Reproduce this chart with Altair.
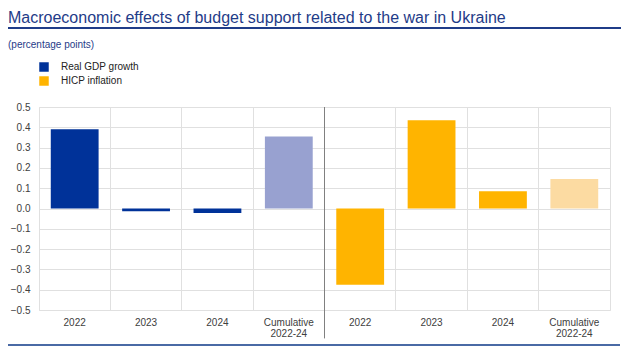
import altair as alt
import pandas as pd

categories = ["2022", "2023", "2024", "Cumulative|2022-24"]
gdp = [0.39, -0.013, -0.022, 0.355]
hicp = [-0.375, 0.435, 0.085, 0.145]
series = ["Real GDP growth", "HICP inflation"]
colors = ["#003299", "#ffb400", "#98a1d0", "#fcdba2"]
y_ticks = [-0.5, -0.4, -0.3, -0.2, -0.1, 0.0, 0.1, 0.2, 0.3, 0.4, 0.5]

rows = []
for prefix, name, vals in [("G", series[0], gdp), ("H", series[1], hicp)]:
    for c, v in zip(categories, vals):
        cum = c.startswith("Cumulative")
        rows.append({
            "cat": f"{prefix}|{c}",
            "value": v,
            "series": name + (" (cumulative)" if cum else ""),
        })
df = pd.DataFrame(rows)
order = list(df["cat"])
color_domain = [series[0], series[1], series[0] + " (cumulative)", series[1] + " (cumulative)"]

FONT = "Liberation Sans"

xscale = alt.Scale(domain=order, paddingInner=0, paddingOuter=0)
yscale = alt.Scale(domain=[-0.5, 0.5], nice=False)
xaxis = alt.Axis(labelExpr="split(slice(datum.label, 2), '|')",
                 labelAngle=0, grid=True, bandPosition=0,
                 ticks=False, domain=False, labelPadding=7,
                 labelLineHeight=11, labelFontSize=10,
                 labelColor="#404040", labelFont=FONT,
                 gridColor="#e0e0e0", title=None)
yaxis = alt.Axis(values=y_ticks, format=".1f", ticks=False, domain=False,
                 labelPadding=9, labelOverlap=False,
                 labelFontSize=10, labelColor="#404040", labelFont=FONT,
                 gridColor="#e0e0e0", title=None)

bars = alt.Chart(df).mark_bar(width=alt.RelativeBandSize(0.67)).encode(
    x=alt.X("cat:N", scale=xscale, sort=order, axis=xaxis),
    y=alt.Y("value:Q", scale=yscale, axis=yaxis),
    color=alt.Color("series:N",
                    scale=alt.Scale(domain=color_domain, range=colors),
                    legend=alt.Legend(values=series, title=None, orient="none",
                                      legendX=0, legendY=-45, symbolType="square",
                                      symbolSize=90, symbolStrokeWidth=0,
                                      labelFontSize=10, labelFont=FONT,
                                      labelColor="#222222", labelOffset=12,
                                      rowPadding=4, padding=0)),
)

sep_df = pd.DataFrame({"cat": ["H|2022"], "y1": [0.5], "y2": [-0.64]})
sep = alt.Chart(sep_df).mark_rule(color="#808080", strokeWidth=1).encode(
    x=alt.X("cat:N", scale=xscale, sort=order, bandPosition=0, axis=xaxis),
    y=alt.Y("y1:Q", scale=yscale, axis=yaxis),
    y2="y2:Q",
)

top_line = alt.Chart(sep_df).mark_rule(color="#1f3c88", strokeWidth=2).encode(
    x=alt.value(-32), x2=alt.value(582), y=alt.value(-79))
bottom_line = alt.Chart(sep_df).mark_rule(color="#4a6aa5", strokeWidth=2).encode(
    x=alt.value(-32), x2=alt.value(581), y=alt.value(238))

chart = alt.layer(bars, sep, top_line, bottom_line).properties(
    width=571,
    height=203,
    autosize=alt.AutoSizeParams(type="none"),
    padding={"left": 31, "top": 99, "right": 14, "bottom": 37},
    title=alt.TitleParams(
        text="Macroeconomic effects of budget support related to the war in Ukraine",
        subtitle="(percentage points)",
        anchor="start", frame="group", orient="top", dx=-31, offset=-23,
        font=FONT, fontSize=16, fontWeight="normal", color="#1f3c88",
        subtitleFont=FONT, subtitleFontSize=10, subtitleColor="#1f3c88",
        subtitlePadding=14,
    ),
).configure_view(stroke="#e0e0e0")

chart.save("out.html", embed_options={"renderer": "svg", "actions": False})
